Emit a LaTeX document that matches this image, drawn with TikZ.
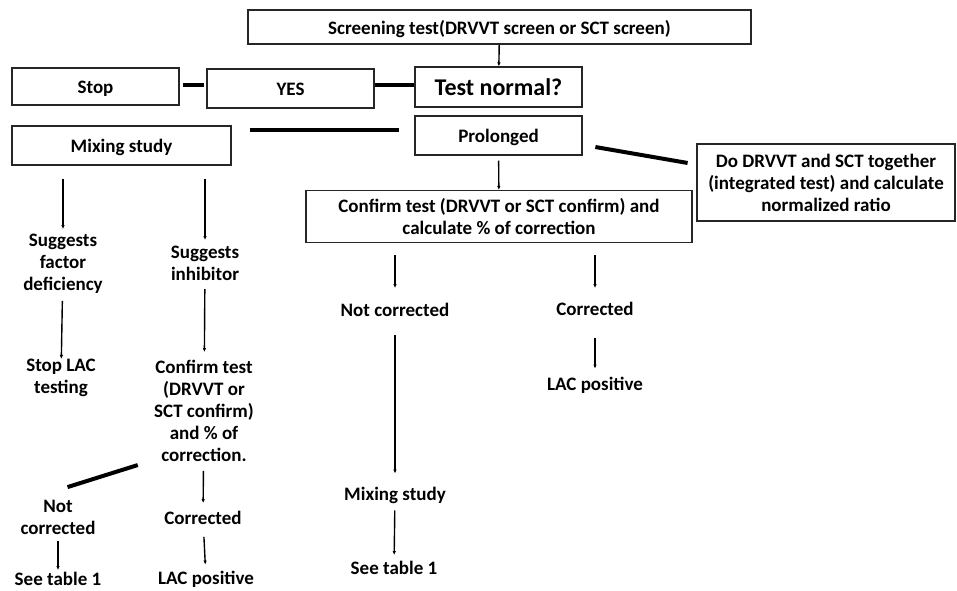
\documentclass[tikz,border=0pt]{standalone}
\usepackage{fontspec}
\setmainfont{Carlito}
\usetikzlibrary{arrows.meta}

\begin{document}
\begin{tikzpicture}[x=1pt,y=-1pt,>={Latex[length=4pt,width=3.5pt]},
  box/.style={draw=black!85,line width=1.1pt,inner sep=0pt,align=center,font=\bfseries\fontsize{19}{22}\selectfont},
  onebox/.style={box,text height=14pt,text depth=0pt},
  txt/.style={inner sep=0pt,align=center,font=\bfseries\fontsize{19}{22}\selectfont},
  arr/.style={->,line width=1.4pt},
  bar/.style={line width=4pt}]
  \useasboundingbox (0,0) rectangle (957,590);
  % screening and first decision
  \node[onebox,minimum width=503pt,minimum height=34pt] (screen) at (499.5,27) {Screening test(DRVVT screen or SCT screen)};
  \node[onebox,minimum width=167pt,minimum height=37pt] (stop) at (95.5,86.5) {Stop};
  \node[onebox,minimum width=167pt,minimum height=39pt] (yes) at (290.5,88.5) {YES};
  \node[onebox,minimum width=167pt,minimum height=40pt,text height=17.5pt,font=\bfseries\fontsize{24}{28}\selectfont] (normal) at (498.5,87) {Test normal?};
  \node[onebox,minimum width=167pt,minimum height=39pt] (prol) at (498.5,135.5) {Prolonged};
  \node[onebox,minimum width=219pt,minimum height=39pt] (mix) at (121.5,145.5) {Mixing study};
  \node[box,minimum width=258pt,minimum height=77pt] (integ) at (826,182.5) {Do DRVVT and SCT together\\(integrated test) and calculate\\normalized ratio};
  \node[box,minimum width=386pt,minimum height=52pt] (confirm) at (499,216.5) {Confirm test (DRVVT or SCT confirm) and\\calculate \% of correction};
  \draw[arr] (screen) -- (normal);
  \draw[bar,shorten <=3pt,shorten >=2pt] ([yshift=1.5pt]stop.east) -- ([yshift=3.5pt]yes.west);
  \draw[bar] ([yshift=3.5pt]yes.east) -- ([yshift=2pt]normal.west);
  \draw[bar,shorten <=15pt,shorten >=18pt] ([yshift=5.5pt]prol.west) -- ([yshift=15.5pt]mix.east);
  \draw[bar,shorten <=13pt,shorten >=9pt] ([yshift=-9.3pt]prol.east) -- ([yshift=18pt]integ.west);
  \draw[arr,shorten <=5pt] (prol) -- (confirm);
  % mixing study branch
  \node[txt] (sfd) at (63,264) {Suggests\\factor\\deficiency};
  \node[txt] (stoplac) at (61,378) {Stop LAC\\testing};
  \node[txt] (sinh) at (205,263.5) {Suggests\\inhibitor};
  \node[txt] (conf2) at (204,411) {Confirm test\\(DRVVT or\\SCT confirm)\\and \% of\\correction.};
  \node[txt] (nc1) at (58,517.5) {Not\\corrected};
  \node[txt] (see1) at (58,579) {See table 1};
  \node[txt] (cor1) at (203,518) {Corrected};
  \node[txt] (lac1) at (206,579) {LAC positive};
  \draw[arr,shorten <=13pt,shorten >=5pt] (sfd.north |- mix.south) -- (sfd.north);
  \draw[arr,shorten <=7pt] (sfd) -- (stoplac);
  \draw[arr,shorten <=13pt,shorten >=6pt] (sinh.north |- mix.south) -- (sinh.north);
  \draw[arr,shorten <=8pt,shorten >=8pt] (sinh) -- (conf2);
  \draw[bar,shorten <=17pt,shorten >=10pt] ([yshift=2pt]conf2.south west) -- ([yshift=10pt]nc1.north);
  \draw[arr,shorten <=9pt,shorten >=8pt] (conf2) -- (cor1);
  \draw[arr,shorten <=12pt,shorten >=6pt] (cor1) -- (lac1);
  \draw[arr,shorten <=6pt,shorten >=2pt] (nc1) -- (see1);
  % confirm test branch
  \node[txt] (nc2) at (395,310) {Not corrected};
  \node[txt] (cor2) at (595,309) {Corrected};
  \node[txt] (mix2) at (395,495) {Mixing study};
  \node[txt] (see2) at (394,568) {See table 1};
  \node[txt] (lac2) at (595,385) {LAC positive};
  \draw[arr,shorten <=12pt,shorten >=15pt] (nc2.north |- confirm.south) -- (nc2.north);
  \draw[arr,shorten <=12pt,shorten >=14pt] (cor2.north |- confirm.south) -- (cor2.north);
  \draw[arr,shorten <=18pt,shorten >=13pt] (nc2) -- (mix2);
  \draw[arr,shorten <=7pt,shorten >=6pt] (mix2) -- (see2);
  \draw[arr,shorten <=22pt,shorten >=8pt] (cor2) -- (lac2);
\end{tikzpicture}
\end{document}
